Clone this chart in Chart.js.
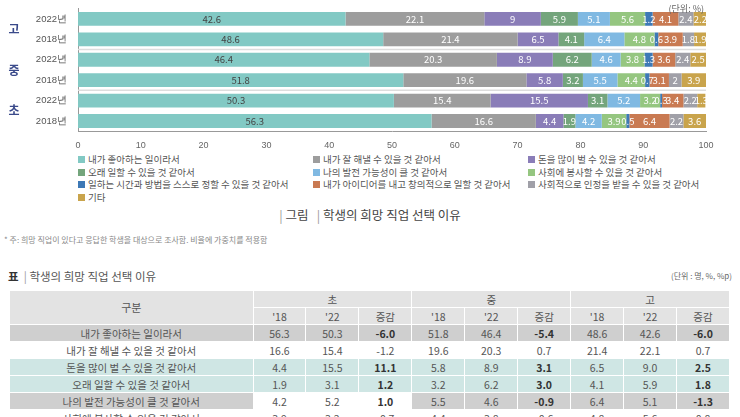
<!DOCTYPE html>
<html><head><meta charset="utf-8">
<script src="https://cdn.jsdelivr.net/npm/chart.js@4/dist/chart.umd.min.js"></script>
<style>
body{margin:0;width:740px;height:417px;overflow:hidden;background:#fff;font-family:"Noto Sans CJK KR","Noto Sans",sans-serif;color:#555;position:relative}
#wrap{position:absolute;left:0;top:0;width:740px;height:152px}
.unit{position:absolute;top:2px;right:36px;font-size:9px;color:#666}
#legend{position:absolute;left:78px;top:153px;display:grid;grid-template-columns:235px 215px 220px;font-size:9.5px;line-height:12.5px;color:#555}
#legend span.b{display:inline-block;width:7px;height:7px;margin-right:3px}
.cap{position:absolute;top:205px;left:0;width:740px;text-align:center;font-size:12.5px;color:#444}
.note{position:absolute;top:234px;left:4px;font-size:8px;color:#888}
.ttl{position:absolute;top:268px;left:8px;font-size:11.5px;color:#555}
.tu{position:absolute;top:270px;right:8px;font-size:8px;color:#666}
table{position:absolute;top:291px;left:10px;width:720px;border-collapse:collapse;font-size:10.5px;color:#555;table-layout:fixed}
td{height:16px;line-height:15px;padding:0;text-align:center;border-right:1px solid #fff;border-bottom:1px solid #fff}
tr.h td{background:#e3e3e3}
.g{background:#cfcfcf}.t{background:#cfe6e4}
b{color:#333}
</style></head><body>
<div id="wrap"><canvas id="c"></canvas></div>
<div class="unit">(단위: %)</div>
<div id="legend"></div>
<div class="cap"><span style="color:#999">|</span> 그림 &nbsp; <span style="color:#999">|</span> 학생의 희망 직업 선택 이유</div>
<div class="note">* 주: 희망 직업이 있다고 응답한 학생을 대상으로 조사함. 비율에 가중치를 적용함</div>
<div class="ttl"><b>표</b> &nbsp;<span style="color:#999">|</span> 학생의 희망 직업 선택 이유</div>
<div class="tu">(단위 : 명, %, %p)</div>
<table id="tbl"></table>
<script>
"use strict";
const rows = ['2022년','2018년','2022년','2018년','2022년','2018년'];
const groups = ['고','중','초'];
const reasons = ['내가 좋아하는 일이라서','내가 잘 해낼 수 있을 것 같아서','돈을 많이 벌 수 있을 것 같아서',
  '오래 일할 수 있을 것 같아서','나의 발전 가능성이 클 것 같아서','사회에 봉사할 수 있을 것 같아서',
  '일하는 시간과 방법을 스스로 정할 수 있을 것 같아서','내가 아이디어를 내고 창의적으로 일할 것 같아서',
  '사회적으로 인정을 받을 수 있을 것 같아서','기타'];
const colors = ['#82c9c4','#9d9d9d','#8a7db8','#74a57c','#80b9e2','#95c680','#3d79b6','#c97a52','#a0a0a8','#c9a44c'];
const values = [
  [42.6,48.6,46.4,51.8,50.3,56.3],
  [22.1,21.4,20.3,19.6,15.4,16.6],
  [9,6.5,8.9,5.8,15.5,4.4],
  [5.9,4.1,6.2,3.2,3.1,1.9],
  [5.1,6.4,4.6,5.5,5.2,4.2],
  [5.6,4.8,3.8,4.4,3.2,3.9],
  [1.2,0.6,1.3,0.7,0.3,0.5],
  [4.1,3.9,3.6,3.1,3.4,6.4],
  [2.4,1.8,2.4,2,2.2,2.2],
  [2.2,1.9,2.5,3.9,1.3,3.6]
];
// 표 데이터 (초 '18,'22,증감, 중 ..., 고 ...)
const tableRows = [
  ['내가 좋아하는 일이라서',56.3,50.3,'-6.0',51.8,46.4,'-5.4',48.6,42.6,'-6.0'],
  ['내가 잘 해낼 수 있을 것 같아서',16.6,15.4,'-1.2',19.6,20.3,'0.7',21.4,22.1,'0.7'],
  ['돈을 많이 벌 수 있을 것 같아서',4.4,15.5,'11.1',5.8,8.9,'3.1',6.5,'9.0','2.5'],
  ['오래 일할 수 있을 것 같아서',1.9,3.1,'1.2',3.2,6.2,'3.0',4.1,5.9,'1.8'],
  ['나의 발전 가능성이 클 것 같아서',4.2,5.2,'1.0',5.5,4.6,'-0.9',6.4,5.1,'-1.3'],
  ['사회에 봉사할 수 있을 것 같아서',3.9,3.2,'-0.7',4.4,3.8,'-0.6',4.8,5.6,'0.8']
];

// 범례
document.getElementById('legend').innerHTML = reasons.map((r,i) =>
  `<div><span class="b" style="background:${colors[i]}"></span>${r}</div>`).join('');

// 표 생성
const rowCls = ['g','','t','t','x',''];
let html = '<colgroup><col style="width:243px">' + '<col>'.repeat(9) + '</colgroup>';
html += '<tr class="h"><td rowspan="2" style="font-size:11px">구분</td><td colspan="3">초</td><td colspan="3">중</td><td colspan="3">고</td></tr>';
html += '<tr class="h">' + ["'18","'22",'증감'].concat(["'18","'22",'증감'],["'18","'22",'증감']).map(s=>`<td>${s}</td>`).join('') + '</tr>';
tableRows.forEach((r,i) => {
    html += '<tr>' + r.map((v,j) => {
        let cls = rowCls[i];
        if (cls === 'x') cls = (j >= 1 && j <= 3) ? '' : 'g';
        const bold = j % 3 === 0 && j > 0 && i !== 1 && i !== 5;
        return `<td class="${cls}">${bold ? '<b>'+v+'</b>' : v}</td>`;
    }).join('') + '</tr>';
});
document.getElementById('tbl').innerHTML = html;

// 막대 라벨 및 그룹 표시 플러그인
const labelPlugin = {
    id: 'labels',
    afterDatasetsDraw(chart) {
        const ctx = chart.ctx;
        ctx.save();
        ctx.font = '9.5px "Noto Sans CJK KR", sans-serif';
        ctx.textAlign = 'center';
        ctx.textBaseline = 'middle';
        chart.data.datasets.forEach((ds, di) => {
            chart.getDatasetMeta(di).data.forEach((bar, i) => {
                const x = (bar.x + bar.base) / 2;
                ctx.fillStyle = di === 0 ? '#444' : '#fff';
                ctx.fillText(String(ds.data[i]), x, bar.y);
            });
        });
        // 그룹 구분선과 라벨
        const y = chart.scales.y, area = chart.chartArea;
        ctx.strokeStyle = '#ddd';
        ctx.lineWidth = 1.5;
        [1.5, 3.5].forEach(p => {
            const py = y.getPixelForValue(p);
            ctx.beginPath(); ctx.moveTo(area.left, py); ctx.lineTo(area.right, py); ctx.stroke();
        });
        ctx.fillStyle = '#3a4a8a';
        ctx.font = 'bold 12px "Noto Sans CJK KR", sans-serif';
        groups.forEach((g, gi) => {
            ctx.fillText(g, 14, y.getPixelForValue(gi * 2 + 0.5));
        });
        ctx.restore();
    }
};

new Chart(document.getElementById('c'), {
    type: 'bar',
    data: {
        labels: rows,
        datasets: reasons.map((r, i) => ({
            label: r, data: values[i], backgroundColor: colors[i],
            barPercentage: 0.68, categoryPercentage: 1
        }))
    },
    options: {
        indexAxis: 'y', responsive: true, maintainAspectRatio: false, animation: false,
        layout: { padding: { top: 8, right: 34, left: 0, bottom: 0 } },
        plugins: { legend: { display: false }, tooltip: { enabled: false } },
        scales: {
            x: { stacked: true, min: 0, max: 100,
                 ticks: { stepSize: 10, color: '#666', font: { size: 9 }, padding: 1 },
                 grid: { display: false }, border: { color: '#999' } },
            y: { stacked: true,
                 ticks: { color: '#555', font: { size: 9.5 } },
                 grid: { display: false }, border: { color: '#999' },
                 afterFit: s => { s.width = 78; } }
        }
    },
    plugins: [labelPlugin]
});
</script>
</body></html>
